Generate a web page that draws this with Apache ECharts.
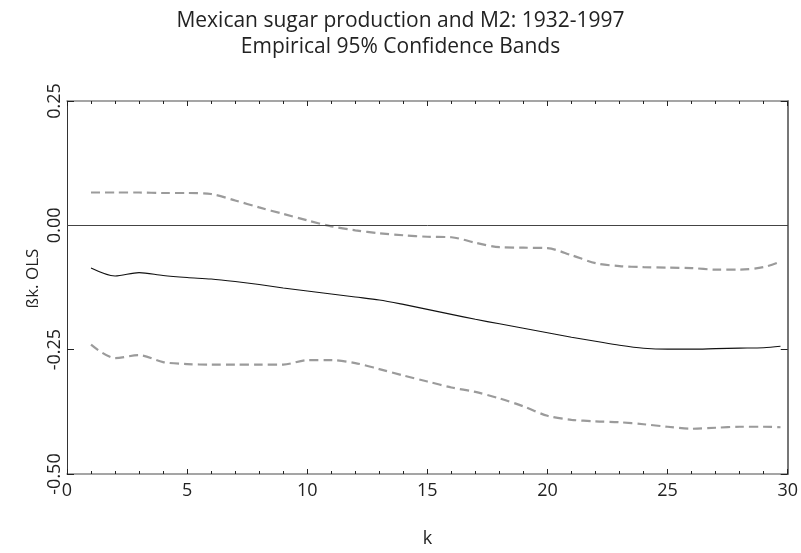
<!DOCTYPE html>
<html>
<head>
<meta charset="utf-8">
<script src="https://cdn.jsdelivr.net/npm/echarts@6/dist/echarts.min.js"></script>
<style>html,body{margin:0;padding:0;background:#fff}#c{width:801px;height:553px}</style>
</head>
<body>
<div id="c"></div>
<script>
var kValues = [1,2,3,4,5,6,7,8,9,10,11,12,13,14,15,16,17,18,19,20,21,22,23,24,25,26,27,28,29,29.7];
var betaOLS = [-0.086,-0.102,-0.095,-0.101,-0.105,-0.108,-0.113,-0.119,-0.126,-0.132,-0.138,-0.144,-0.150,-0.159,-0.169,-0.179,-0.189,-0.198,-0.207,-0.216,-0.225,-0.233,-0.241,-0.247,-0.249,-0.249,-0.248,-0.247,-0.246,-0.243];
var upperBand = [0.066,0.066,0.066,0.065,0.065,0.063,0.050,0.036,0.023,0.010,-0.002,-0.010,-0.016,-0.020,-0.023,-0.024,-0.035,-0.044,-0.045,-0.046,-0.060,-0.076,-0.082,-0.084,-0.085,-0.086,-0.089,-0.089,-0.084,-0.073];
var lowerBand = [-0.240,-0.267,-0.261,-0.275,-0.279,-0.280,-0.280,-0.280,-0.280,-0.271,-0.271,-0.277,-0.289,-0.302,-0.314,-0.326,-0.335,-0.348,-0.364,-0.383,-0.391,-0.394,-0.396,-0.400,-0.405,-0.409,-0.407,-0.405,-0.405,-0.406];
var yTicks = [-0.5,-0.25,0,0.25];

function pairs(vals){ return kValues.map(function(k,i){ return [k, vals[i]]; }); }
var FONT = '"Open Sans", "Noto Sans", sans-serif';

var chart = echarts.init(document.getElementById('c'), null, {renderer:'canvas'});
chart.setOption({
  animation:false,
  backgroundColor:'#fff',
  title:{
    text:'Mexican sugar production and M2: 1932-1997\nEmpirical 95% Confidence Bands',
    left:'center', top:3,
    textStyle:{fontFamily:FONT, fontSize:21, fontWeight:'normal', color:'#222', lineHeight:26}
  },
  grid:{left:67, right:9, top:101, bottom:77},
  xAxis:[{
    type:'value', min:0, max:30, interval:5, position:'bottom',
    name:'k', nameLocation:'middle', nameGap:56,
    nameTextStyle:{fontFamily:FONT, fontSize:18, color:'#222'},
    axisLine:{show:true, onZero:false, lineStyle:{color:'#888', width:1.5}},
    axisTick:{show:true, inside:true, length:5, lineStyle:{color:'#222'}},
    minorTick:{show:true, splitNumber:5, length:3, lineStyle:{color:'#222'}},
    axisLabel:{fontFamily:FONT, fontSize:18, color:'#222', margin:8},
    splitLine:{show:false}
  },{
    type:'value', min:0, max:30, interval:5, position:'top',
    axisLine:{show:true, onZero:false, lineStyle:{color:'#888', width:1.5}},
    axisTick:{show:true, inside:true, length:5, lineStyle:{color:'#222'}},
    minorTick:{show:true, splitNumber:5, length:3, lineStyle:{color:'#222'}},
    axisLabel:{show:false}, splitLine:{show:false}
  }],
  yAxis:[{
    type:'value', min:-0.5, max:0.25, interval:0.25, position:'left',
    name:'ßk. OLS', nameLocation:'middle', nameGap:25, nameRotate:90, nameMoveOverlap:false,
    nameTextStyle:{fontFamily:FONT, fontSize:17, color:'#222', padding:[0,0,0,18]},
    axisLine:{show:true, onZero:false, lineStyle:{color:'#333', width:1}},
    axisTick:{show:true, inside:true, length:7, lineStyle:{color:'#222'}},
    axisLabel:{fontFamily:FONT, fontSize:18, color:'#222', rotate:90, margin:3,
      formatter:function(v){ return v.toFixed(2); }},
    splitLine:{show:false}
  },{
    type:'value', min:-0.5, max:0.25, interval:0.25, position:'right',
    axisLine:{show:true, onZero:false, lineStyle:{color:'#777', width:2}},
    axisTick:{show:true, inside:true, length:7, lineStyle:{color:'#222'}},
    axisLabel:{show:false}, splitLine:{show:false}
  }],
  series:[{
    type:'line', name:'upper', data:pairs(upperBand), showSymbol:false, symbol:'none', smooth:0.3,
    lineStyle:{color:'#9b9b9b', width:2.2, type:[9,5]}
  },{
    type:'line', name:'lower', data:pairs(lowerBand), showSymbol:false, symbol:'none', smooth:0.3,
    lineStyle:{color:'#9b9b9b', width:2.2, type:[9,5]}
  },{
    type:'line', name:'beta', data:pairs(betaOLS), showSymbol:false, symbol:'none', smooth:0.3,
    lineStyle:{color:'#111', width:1.1},
    markLine:{silent:true, symbol:['none','none'], label:{show:false},
      lineStyle:{color:'#444', width:1, type:'solid'}, data:[{yAxis:0}]}
  }]
});
</script>
</body>
</html>
